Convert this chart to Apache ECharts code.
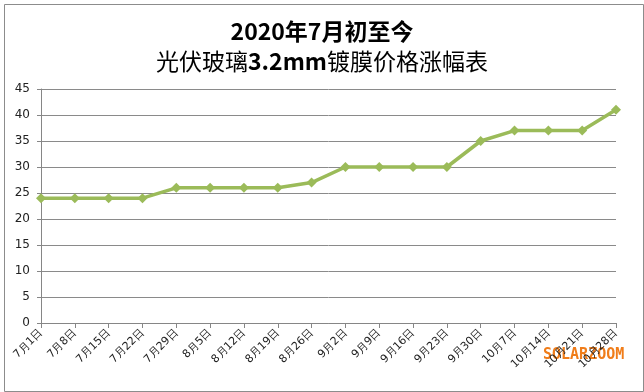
<!DOCTYPE html>
<html><head><meta charset="utf-8">
<script src="https://cdn.jsdelivr.net/npm/echarts@6/dist/echarts.min.js"></script>
<style>html,body{margin:0;padding:0;background:#fff}#c{width:644px;height:392px}</style>
</head><body><div id="c"></div>
<script>
const categories = ['7月1日','7月8日','7月15日','7月22日','7月29日','8月5日','8月12日','8月19日','8月26日','9月2日','9月9日','9月16日','9月23日','9月30日','10月7日','10月14日','10月21日','10月28日'];
const prices = [24,24,24,24,26,26,26,26,27,30,30,30,30,35,37,37,37,41];
const titleLine1 = '2020年7月初至今';
const titleLine2a = '光伏玻璃';
const titleLine2b = '3.2mm';
const titleLine2c = '镀膜价格涨幅表';

const chart = echarts.init(document.getElementById('c'), null, {renderer:'canvas'});
const base = {fontFamily:'Noto Sans CJK SC', fontSize:23, color:'#000', lineHeight:30};
chart.setOption({
  backgroundColor:'#fff',
  animation:false,
  title:{
    text: '{b|' + titleLine1 + '}\n{n|' + titleLine2a + '}{b|' + titleLine2b + '}{n|' + titleLine2c + '}',
    left:'center', top:11,
    textStyle:{rich:{
      b: Object.assign({fontWeight:'bold'}, base),
      n: Object.assign({fontWeight:'normal'}, base)
    }}
  },
  graphic:[
    {type:'rect', left:2, top:2, shape:{width:639, height:387}, style:{fill:null, stroke:'#8c8c8c', lineWidth:1}, silent:true},
    {type:'text', left:543, top:348, style:{text:'SOLARZOOM', fill:'#f07d1a', font:'bold 15px "DejaVu Sans Mono", monospace'}}
  ],
  grid:{left:41, right:28, top:89, bottom:69},
  xAxis:{
    type:'category', data:categories, boundaryGap:false,
    axisLine:{lineStyle:{color:'#868686', width:1}},
    axisTick:{show:true, alignWithLabel:true, length:5, lineStyle:{color:'#868686'}},
    axisLabel:{rotate:45, interval:0, fontSize:11, color:'#222', fontFamily:'DejaVu Sans', margin:8}
  },
  yAxis:{
    type:'value', min:0, max:45, interval:5,
    axisLine:{show:true, lineStyle:{color:'#868686'}},
    axisTick:{show:true, length:4, lineStyle:{color:'#868686'}},
    axisLabel:{fontSize:12, color:'#222', fontFamily:'DejaVu Sans', margin:11},
    splitLine:{lineStyle:{color:'#8a8a8a', width:1}}
  },
  series:[{
    type:'line', data:prices,
    symbol:'diamond', symbolSize:10,
    lineStyle:{color:'#9bbb59', width:3.5},
    itemStyle:{color:'#9bbb59'}
  }]
});
</script></body></html>
